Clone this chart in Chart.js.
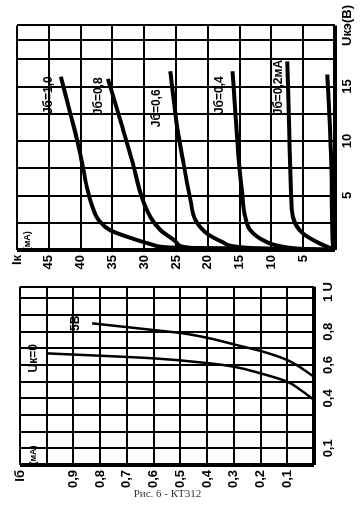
<!DOCTYPE html>
<html>
<head>
<meta charset="utf-8">
<script src="https://cdn.jsdelivr.net/npm/chart.js@4.4.0/dist/chart.umd.min.js"></script>
<style>
  html, body { margin: 0; padding: 0; background: #fff; }
  body { width: 361px; height: 517px; position: relative; overflow: hidden; }
  /* лист повернут на 90° против часовой, как в справочнике */
  #sheet { position: absolute; left: 0; top: 0; width: 490px; height: 361px;
           transform-origin: 0 0; transform: translateY(490px) rotate(-90deg); }
  #sheet canvas { position: absolute; top: 0; }
  #cap { position: absolute; left: 0; top: 487px; width: 335px; text-align: center;
         font: 11px "Liberation Serif", serif; color: #333; }
</style>
</head>
<body>
<div id="sheet">
  <canvas id="input-chart" width="215" height="361" style="left:0"></canvas>
  <canvas id="output-chart" width="275" height="361" style="left:215px"></canvas>
</div>
<div id="cap">Рис. 6 - КТ312</div>
<script>
// Входные характеристики: Uбэ (В) -> Iб (мА)
const ibUk0 = [[0.39, 0], [0.45, 0.05], [0.50, 0.10], [0.55, 0.20], [0.59, 0.30], [0.61, 0.39], [0.64, 0.60], [0.67, 1.0]];
const ibUk5 = [[0.53, 0], [0.63, 0.10], [0.68, 0.19], [0.72, 0.29], [0.76, 0.39], [0.79, 0.49], [0.81, 0.60], [0.85, 0.83]];

// Выходные характеристики: Uкэ (В) -> Iк (мА)
const ikIb10 = [[0, 0], [0.1, 12], [0.2, 24.8], [0.45, 28.5], [1.1, 32.1], [1.8, 35.3], [2.7, 37.1], [3.9, 38.1], [5.5, 38.9], [7.5, 39.6], [10, 40.5], [12.5, 41.6], [15.9, 43.1]];
const ikIb08 = [[0, 0], [0.1, 12], [0.2, 22.7], [0.6, 24.8], [1.8, 27.4], [3.0, 29.0], [4.7, 30.3], [8.2, 31.9], [11.2, 33.4], [15.7, 35.7]];
const ikIb06 = [[0, 0], [0.1, 8], [0.2, 13.8], [0.7, 17.6], [1.5, 20.1], [2.7, 21.9], [4.5, 22.7], [7.9, 23.8], [11.2, 24.8], [16.4, 25.9]];
const ikIb04 = [[0, 0], [0.1, 5], [0.3, 8.2], [0.9, 11.3], [1.8, 13.3], [3.0, 14.1], [5.2, 14.6], [8.8, 15.2], [12.7, 15.7], [16.4, 16.1]];
const ikIb02 = [[0, 0], [0.6, 2.4], [1.5, 5.0], [3.0, 6.6], [5.2, 6.9], [10.9, 7.2], [17.3, 7.5]];
const ikIb00 = [[0, 0], [0.3, 0.3], [5.2, 0.5], [11.2, 0.8], [16.1, 1.2]];

// Деления и подписи осей
const ubeTicks = [0, 0.1, 0.2, 0.3, 0.4, 0.5, 0.6, 0.7, 0.8, 0.9, 1.0, 1.07];
const ubeLabels = ['', '0,1', '', '', '0,4', '', '0,6', '', '0,8', '', '1', 'U'];
const ibTicks = [0, 0.1, 0.2, 0.3, 0.4, 0.5, 0.6, 0.7, 0.8, 0.9, 1.0, 1.1];
const ibLabels = ['', '0,1', '0,2', '0,3', '0,4', '0,5', '0,6', '0,7', '0,8', '0,9', '', 'Iб'];
const ukeTicks = [0, 2.5, 5, 7.5, 10, 12.5, 15, 17.5, 19.3, 20.6];
const ukeLabels = ['', '', '5', '', '10', '', '15', '', '', 'Uкэ(В)'];
const ikTicks = [0, 5, 10, 15, 20, 25, 30, 35, 40, 45, 50];
const ikLabels = ['', '5', '10', '15', '20', '25', '30', '35', '40', '45', 'Iк'];

// Надписи у кривых (в единицах осей)
const inNames = ['Uк=0', '5В', '(мА)'];
const inNameAt = [[0.64, 1.05], [0.85, 0.89], [0.06, 1.05]];
const outNames = ['Jб=1,0', 'Jб=0,8', 'Jб=0,6', 'Jб=0,4', 'Jб=0,2мА', '(мА)'];
const outNameAt = [[14.2, 45], [14.1, 37.2], [13.0, 28], [14.2, 18.2], [14.9, 8.8], [0.85, 48.4]];

document.addEventListener('DOMContentLoaded', function() {
    const tickFont = { family: '"Liberation Sans Narrow", "Liberation Sans", sans-serif', size: 13, weight: 'bold' };

    // подписи внутри поля графика
    const notes = {
        id: 'notes',
        afterDatasetsDraw(chart, args, opts) {
            const { ctx, scales: { x, y } } = chart;
            ctx.save();
            ctx.fillStyle = '#000';
            ctx.textAlign = 'center';
            ctx.textBaseline = 'middle';
            opts.names.forEach((txt, i) => {
                ctx.font = txt === '(мА)' ? 'bold 9px "Liberation Sans"' : 'bold 12px "Liberation Sans"';
                ctx.fillText(txt, x.getPixelForValue(opts.at[i][0]), y.getPixelForValue(opts.at[i][1]));
            });
            ctx.restore();
        }
    };

    function toPoints(arr) {
        return arr.map(p => ({ x: p[0], y: p[1] }));
    }

    function curve(label, arr, width) {
        return {
            label: label,
            data: toPoints(arr),
            showLine: true,
            borderColor: '#000',
            borderWidth: width,
            pointRadius: 0,
            cubicInterpolationMode: 'monotone',
            fill: false
        };
    }

    function axis(min, max, ticks, labels, pad, fitProp, fitSize) {
        return {
            type: 'linear',
            min: min,
            max: max,
            afterBuildTicks: s => { s.ticks = ticks.map(v => ({ value: v })); },
            afterFit: s => { s[fitProp] = fitSize; },
            ticks: {
                autoSkip: false,
                maxRotation: 0,
                padding: pad,
                color: '#000',
                font: tickFont,
                callback: (v, i) => labels[i]
            },
            grid: {
                color: '#000',
                drawTicks: false,
                lineWidth: c => (c.tick && c.tick.value === 0 ? 4 : 2)
            },
            border: { display: false }
        };
    }

    // Iб = f(Uбэ)
    new Chart(document.getElementById('input-chart'), {
        type: 'scatter',
        data: {
            datasets: [
                curve('Uк=0', ibUk0, 2.5),
                curve('Uк=5В', ibUk5, 2.5)
            ]
        },
        options: {
            responsive: false,
            animation: false,
            layout: { padding: { top: 20, right: 11, left: 0, bottom: 0 } },
            scales: {
                x: axis(0, 1.07, ubeTicks, ubeLabels, 7, 'height', 47),
                y: axis(0, 1.1, ibTicks, ibLabels, 5, 'width', 25)
            },
            plugins: {
                legend: { display: false },
                tooltip: { enabled: false },
                notes: { names: inNames, at: inNameAt }
            }
        },
        plugins: [notes]
    });

    // Iк = f(Uкэ)
    new Chart(document.getElementById('output-chart'), {
        type: 'scatter',
        data: {
            datasets: [
                curve('Jб=1,0', ikIb10, 4),
                curve('Jб=0,8', ikIb08, 4),
                curve('Jб=0,6', ikIb06, 4),
                curve('Jб=0,4', ikIb04, 4),
                curve('Jб=0,2', ikIb02, 4),
                curve('Jб=0', ikIb00, 4)
            ]
        },
        options: {
            responsive: false,
            animation: false,
            layout: { padding: { top: 17, right: 23, left: 0, bottom: 0 } },
            scales: {
                x: axis(0, 20.6, ukeTicks, ukeLabels, 5, 'height', 26),
                y: axis(0, 50, ikTicks, ikLabels, 5, 'width', 25)
            },
            plugins: {
                legend: { display: false },
                tooltip: { enabled: false },
                notes: { names: outNames, at: outNameAt }
            }
        },
        plugins: [notes]
    });
});
</script>
</body>
</html>
